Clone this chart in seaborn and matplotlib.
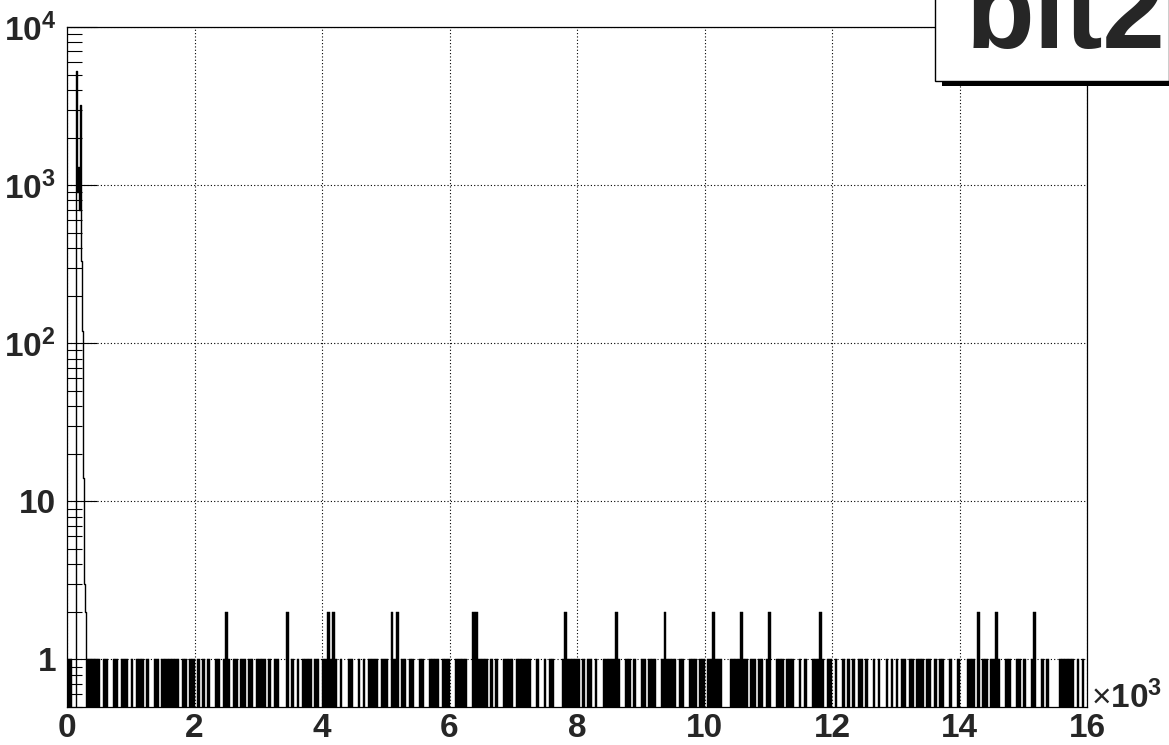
import numpy as np
import pandas as pd
import matplotlib
matplotlib.use("Agg")
import matplotlib.pyplot as plt
import seaborn as sns
from matplotlib.patches import Rectangle
from matplotlib.ticker import FixedLocator, LogLocator, NullFormatter

# peak near zero, 16-unit bins (edges 128..320)
peak_edges = [128, 144, 160, 176, 192, 208, 224, 240, 256, 272, 288, 304, 320]
peak_counts = [0, 5300, 900, 1300, 700, 3200, 330, 120, 14, 3, 2, 0]

# rest of the spectrum, 40-unit bins, one row per 1000 units ('.' = empty)
bin_width = 40
row_counts = [
    "11......11111.11..11.111.",
    "1.111.1..11.1111111.11.11",
    ".1.1.1..11.121.11.11.11.1",
    "111.1.11...2.1.1.1111.11.",
    "112121.1..11..1.1.1111.11",
    "1.212.11.11..11..1111.111",
    "..11111..221111.1.1..1111",
    ".111111..1..1.11...121111",
    "1.1.11.1..1111121..11.1..",
    "11.111..121111.11..111.11",
    ".112111...1111211.11.11.1",
    "2..111.111..1.1..11121.11",
    ".1..1.1.1.11.1..1.1..1.1.",
    "1.11.11.111.11.1.11..1..1",
    "...111.2.11.1121..11..11.",
    "1..12..1.1....111111.1.1.",
]
x_ticks = [0, 2000, 4000, 6000, 8000, 10000, 12000, 14000, 16000]
x_labels = ["0", "2", "4", "6", "8", "10", "12", "14", "16"]
y_ticks = [1, 10, 100, 1000, 10000]
y_labels = ["1", "10", r"$\mathbf{10^{2}}$", r"$\mathbf{10^{3}}$", r"$\mathbf{10^{4}}$"]
title = "bit2"

counts = [0 if c == "." else int(c) for row in row_counts for c in row]
edges = [i * bin_width for i in range(len(counts) + 1)]
low = pd.DataFrame({"x": [e + bin_width / 2 for e in edges[:-1]], "n": counts})
peak = pd.DataFrame({"x": [(a + b) / 2 for a, b in zip(peak_edges[:-1], peak_edges[1:])],
                     "n": peak_counts})

sns.set_style("white")
plt.rcParams["font.family"] = ["Liberation Sans", "DejaVu Sans"]
plt.rcParams["mathtext.fontset"] = "custom"
plt.rcParams["mathtext.rm"] = "Liberation Sans"
plt.rcParams["mathtext.bf"] = "Liberation Sans:bold"

fig = plt.figure(figsize=(11.69, 7.45), dpi=100)
ax = fig.add_axes([67 / 1169, 1 - 707 / 745, 1020 / 1169, 680 / 745])

sns.histplot(data=low, x="x", weights="n", bins=edges, element="bars", fill=True,
             color="black", alpha=1, edgecolor="black", linewidth=0.3, ax=ax)
sns.histplot(data=peak, x="x", weights="n", bins=peak_edges, element="step", fill=False,
             color="black", linewidth=1.0, ax=ax)

ax.set_yscale("log")
ax.set_xlim(0, 16000)
ax.set_ylim(0.5, 1e4)
ax.set_xlabel("")
ax.set_ylabel("")

ax.yaxis.set_major_locator(FixedLocator(y_ticks))
ax.set_yticklabels(y_labels, fontsize=24, fontweight="bold")
ax.yaxis.set_minor_locator(LogLocator(base=10, subs=np.arange(2, 10)))
ax.yaxis.set_minor_formatter(NullFormatter())
ax.tick_params(axis="y", which="major", direction="in", length=21.6, width=0.8,
               color="black", pad=8, left=True, right=False)
ax.tick_params(axis="y", which="minor", direction="in", length=10.8, width=0.8,
               color="black", left=True, right=False)

ax.set_xticks(x_ticks)
ax.set_xticklabels(x_labels, fontsize=24, fontweight="bold")
ax.tick_params(axis="x", which="both", length=0, pad=4)

ax.grid(True, which="major", color="black", linestyle=(0, (1, 2)), linewidth=0.8)
for s in ax.spines.values():
    s.set_color("black")
    s.set_linewidth(0.9)

fig.text(1091 / 1169, 1 - 708 / 745, r"$\times\mathbf{10^{3}}$", fontsize=24,
         ha="left", va="baseline")

# title box with shadow, cut by the figure edge
fig.patches.append(Rectangle((942 / 1169, 1 - 86 / 745), 0.2, 0.2,
                             transform=fig.transFigure, facecolor="black",
                             edgecolor="none", zorder=5))
fig.patches.append(Rectangle((935 / 1169, 1 - 81 / 745), 0.2, 0.2,
                             transform=fig.transFigure, facecolor="white",
                             edgecolor="black", linewidth=1, zorder=6))
fig.text(966 / 1169, 1 - 48 / 745, title, fontsize=81, fontweight="bold",
         ha="left", va="baseline", zorder=7)

fig.savefig("out.png", dpi=100)
